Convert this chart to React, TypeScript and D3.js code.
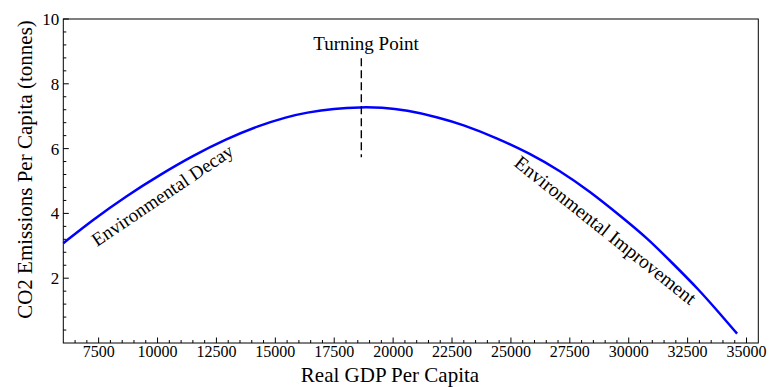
import React, { useEffect, useRef } from "react";
import * as d3 from "d3";

// values
const gdp = [6000, 7250, 8700, 10100, 11500, 12900, 14300, 15500, 16300, 17500, 18650, 19500, 20550, 21950, 22950, 24400, 25800, 27050, 28350, 29750, 30750, 31850, 33000, 33850, 34600];
const co2 = [3.08, 3.8, 4.55, 5.19, 5.78, 6.29, 6.71, 6.98, 7.11, 7.24, 7.28, 7.27, 7.19, 6.96, 6.74, 6.33, 5.85, 5.33, 4.68, 3.86, 3.26, 2.47, 1.63, 0.92, 0.29];

const xTickValues = [7500, 10000, 12500, 15000, 17500, 20000, 22500, 25000, 27500, 30000, 32500, 35000];
const yTickValues = [2, 4, 6, 8, 10];

const turningPoint = { gdp: 18650, top: 8.79, bottom: 5.73 };

const W = 773, H = 387;
const FONT = "'Liberation Serif', 'Times New Roman', serif";

export default function App() {
  const ref = useRef<SVGSVGElement>(null);

  useEffect(() => {
    const svg = d3.select(ref.current);
    svg.selectAll("*").remove();

    const x = d3.scaleLinear().domain([6000, 35500]).range([63.3, 758.3]);
    const y = d3.scaleLinear().domain([0, 10]).range([343, 19]);

    // frame
    svg.append("rect")
      .attr("x", x(6000)).attr("y", y(10))
      .attr("width", x(35500) - x(6000)).attr("height", y(0) - y(10))
      .attr("fill", "none").attr("stroke", "#000").attr("stroke-width", 1);

    // bottom axis, ticks pointing inward
    const minorX = d3.range(6500, 35500, 500).filter(v => v % 2500 !== 0);
    svg.append("g").selectAll("line").data(minorX).enter().append("line")
      .attr("x1", d => x(d)).attr("x2", d => x(d))
      .attr("y1", y(0)).attr("y2", y(0) - 3)
      .attr("stroke", "#000");
    svg.append("g").selectAll("line").data(xTickValues).enter().append("line")
      .attr("x1", d => x(d)).attr("x2", d => x(d))
      .attr("y1", y(0)).attr("y2", y(0) - 5.5)
      .attr("stroke", "#000");
    svg.append("g").selectAll("text").data(xTickValues).enter().append("text")
      .attr("x", d => x(d)).attr("y", 357)
      .attr("text-anchor", "middle")
      .style("font-family", FONT).style("font-size", "16px")
      .text(d => String(d));

    // left axis
    const minorY = d3.range(0.4, 10, 0.4).filter(v => Math.abs(v / 2 - Math.round(v / 2)) > 0.01);
    svg.append("g").selectAll("line").data(minorY).enter().append("line")
      .attr("x1", x(6000)).attr("x2", x(6000) + 3)
      .attr("y1", d => y(d)).attr("y2", d => y(d))
      .attr("stroke", "#000");
    svg.append("g").selectAll("line").data(yTickValues).enter().append("line")
      .attr("x1", x(6000)).attr("x2", x(6000) + 5.5)
      .attr("y1", d => y(d)).attr("y2", d => y(d))
      .attr("stroke", "#000");
    svg.append("g").selectAll("text").data(yTickValues).enter().append("text")
      .attr("x", x(6000) - 4).attr("y", d => y(d))
      .attr("dy", "0.35em")
      .attr("text-anchor", "end")
      .style("font-family", FONT).style("font-size", "17px")
      .text(d => String(d));

    // curve
    const pts = gdp.map((g, i) => [g, co2[i]] as [number, number]);
    svg.append("path")
      .datum(pts)
      .attr("fill", "none")
      .attr("stroke", "#0000ff")
      .attr("stroke-width", 2.5)
      .attr("d", d3.line<[number, number]>()
        .x(d => x(d[0]))
        .y(d => y(d[1]))
        .curve(d3.curveBasis));

    // turning point
    svg.append("line")
      .attr("x1", x(turningPoint.gdp)).attr("x2", x(turningPoint.gdp))
      .attr("y1", y(turningPoint.top)).attr("y2", y(turningPoint.bottom))
      .attr("stroke", "#000").attr("stroke-width", 1.4)
      .style("stroke-dasharray", "8, 4");
    svg.append("text")
      .attr("x", 366).attr("y", 50)
      .attr("text-anchor", "middle")
      .style("font-family", FONT).style("font-size", "19px")
      .text("Turning Point");

    // region labels
    svg.append("text")
      .attr("transform", "translate(97,247) rotate(-34)")
      .style("font-family", FONT).style("font-size", "19px")
      .text("Environmental Decay");
    svg.append("text")
      .attr("transform", "translate(513,165) rotate(38.5)")
      .style("font-family", FONT).style("font-size", "19.5px")
      .text("Environmental Improvement");

    // axis titles
    svg.append("text")
      .attr("x", 390).attr("y", 382)
      .attr("text-anchor", "middle")
      .style("font-family", FONT).style("font-size", "21px")
      .text("Real GDP Per Capita");
    svg.append("text")
      .attr("transform", "translate(31.5,169.5) rotate(-90)")
      .attr("text-anchor", "middle")
      .style("font-family", FONT).style("font-size", "21px")
      .text("CO2 Emissions Per Capita (tonnes)");
  }, []);

  return (
    <svg ref={ref} width={W} height={H}
      style={{ position: "absolute", left: 0, top: 0, background: "#fff" }} />
  );
}
